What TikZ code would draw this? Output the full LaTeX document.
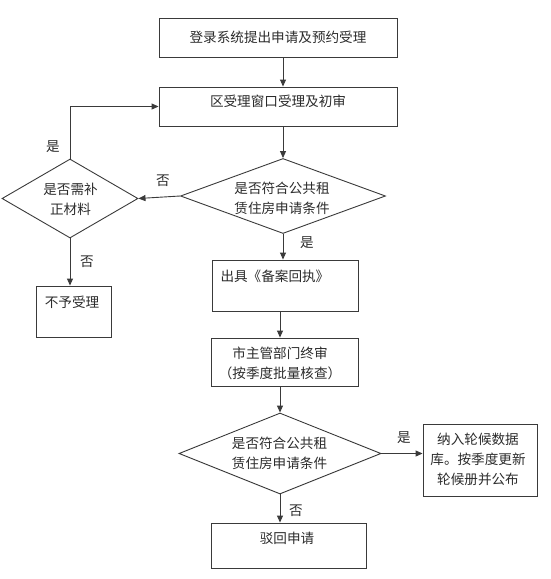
\documentclass[tikz,border=0pt]{standalone}
\usepackage{fontspec}
\setmainfont{Noto Sans CJK SC}
\usetikzlibrary{arrows.meta,shapes.geometric,calc}
\definecolor{fcInk}{HTML}{2B2B2B}
\definecolor{fcLine}{HTML}{3A3A3A}
\tikzset{
  every node/.style={font=\fontsize{13.6}{19.8}\selectfont, text=fcInk},
  procBox/.style={rectangle, draw=fcLine, line width=0.9pt, inner sep=0pt,
    align=center},
  decision/.style={diamond, draw=fcLine, line width=0.9pt, inner sep=0pt},
  flow/.style={-{Triangle[length=7pt,width=6pt]}, line width=0.9pt,
    color=fcLine},
  answer/.style={inner sep=1pt},
}

\begin{document}
\begin{tikzpicture}[x=1pt,y=-1pt]
  \useasboundingbox (0,0) rectangle (551,579);

  % Online application and district window.
  \node[procBox, minimum width=238pt, minimum height=39pt] (login)
    at (278,37.5) {登录系统提出申请及预约受理};
  \node[procBox, minimum width=238pt, minimum height=39pt] (window)
    at (278,106.5) {};
  \node (windowText) at ([yshift=5pt]window.center) {区受理窗口受理及初审};

  % First check and the supplement loop.
  \node[decision, minimum width=205pt, minimum height=75pt] (check)
    at (283,196) {};
  \node[align=center] (checkText) at (282,198)
    {是否符合公共租\\赁住房申请条件};
  \node[decision, minimum width=136pt, minimum height=79pt] (supply)
    at (70,198.5) {};
  \node[align=center] (supplyText) at (70.5,199) {是否需补\\正材料};
  \node[procBox, minimum width=75pt, minimum height=51pt] (noAccept)
    at (73.5,311.5) {};
  \node (noAcceptText) at (72,302) {不予受理};

  % Receipt and city review.
  \node[procBox, minimum width=146pt, minimum height=51pt] (receipt)
    at (285,285.5) {};
  \node[anchor=west] (receiptText) at (217,276) {出具《备案回执》};
  \node[procBox, minimum width=147pt, minimum height=48pt] (city)
    at (284.5,362) {};
  \node[align=center] (cityText) at (280,363.5)
    {市主管部门终审\\（按季度批量核查）};

  % Final check.
  \node[decision, minimum width=202pt, minimum height=81pt] (final)
    at (280,453.5) {};
  \node[align=center] (finalText) at (279.5,453)
    {是否符合公共租\\赁住房申请条件};
  \node[procBox, minimum width=114pt, minimum height=72pt] (waitList)
    at (480,460) {};
  \node[align=center] (waitText) at (478,459.5)
    {纳入轮候数据\\库。按季度更新\\轮候册并公布};
  \node[procBox, minimum width=155pt, minimum height=45pt] (reject)
    at (288.5,545.5) {};
  \node (rejectText) at (287,538) {驳回申请};

  % Connectors.
  \draw[flow] (login.south -| check.north) -- (window.north -| check.north);
  \draw[flow] (window.south -| check.north) -- (check.north);
  \draw[flow] (check.west) -- (supply.east);
  \node[answer] (checkNo) at (163,181) {否};
  \draw[flow] (supply.north) |- (window.west);
  \node[answer] (supplyYes) at (53,147) {是};
  \draw[flow] (supply.south) -- (supply.south |- noAccept.north);
  \node[answer] (supplyNo) at (87,262) {否};
  \draw[flow] (check.south) -- (check.south |- receipt.north);
  \node[answer] (checkYes) at (307,243) {是};
  \draw[flow] (receipt.south -| final.north) -- (city.north -| final.north);
  \draw[flow] (city.south -| final.north) -- (final.north);
  \draw[flow] (final.east) -- (final.east -| waitList.west);
  \node[answer] (finalYes) at (404,438) {是};
  \draw[flow] (final.south) -- (final.south |- reject.north);
  \node[answer] (finalNo) at (296,511) {否};
\end{tikzpicture}
\end{document}
